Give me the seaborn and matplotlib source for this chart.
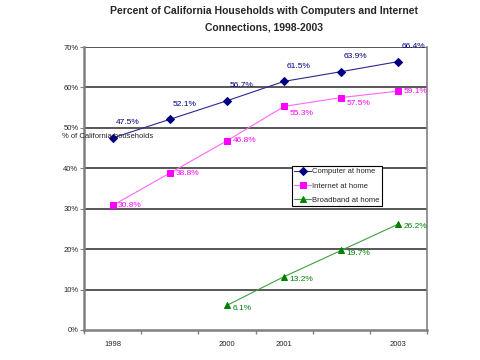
import matplotlib
matplotlib.use("Agg")
import matplotlib.pyplot as plt
import seaborn as sns
import numpy as np
import pandas as pd
from matplotlib.ticker import FuncFormatter, FixedLocator

sns.set_style("white")
plt.rcParams['font.family'] = ['Liberation Sans', 'DejaVu Sans']

years = ["1998", "", "2000", "2001", "", "2003"]
computer = [47.5, 52.1, 56.7, 61.5, 63.9, 66.4]
internet = [30.8, 38.8, 46.8, 55.3, 57.5, 59.1]
broadband = [np.nan, np.nan, 6.1, 13.2, 19.7, 26.2]

title = "Percent of California Households with Computers and Internet\nConnections, 1998-2003"
ylabel = "% of California households"

# label offsets (points) per series
off_computer = [(2, 11)] * 6
off_internet = [(4, 0), (4, 0), (4, 0), (4, -5), (4, -4), (4, 0)]
off_broadband = [(4, -2)] * 6

series = [
    ("Computer at home", computer, "#000080", "#2a2a90", "D", 4.5, off_computer),
    ("Internet at home", internet, "#ff00ff", "#ff66ff", "s", 5, off_internet),
    ("Broadband at home", broadband, "#008000", "#40a040", "^", 5, off_broadband),
]

fig = plt.figure(figsize=(4.8, 3.6), dpi=100)
ax = fig.add_axes([84/480, 1-330/360, 343/480, 283/360])

x = np.arange(len(years))
for name, vals, mcol, lcol, mk, ms, offs in series:
    df = pd.DataFrame({"x": x, "y": vals})
    sns.lineplot(data=df, x="x", y="y", ax=ax, color=lcol, lw=0.8,
                 marker=mk, markersize=ms, markerfacecolor=mcol,
                 markeredgecolor=mcol, label=name)
    for xi, v, off in zip(x, vals, offs):
        if np.isnan(v):
            continue
        ax.annotate(f"{v:.1f}%", (xi, v), xytext=off, textcoords="offset points",
                    ha="left", va="center", fontsize=6, color=mcol)

ax.set_xlim(-0.5, len(years) - 0.5)
ax.set_ylim(0, 70)
ax.set_xticks(x)
ax.set_xticklabels(years, fontsize=5.5)
ax.xaxis.set_minor_locator(FixedLocator(np.arange(-0.5, len(years), 1.0)))
ax.tick_params(axis="x", which="major", length=0, pad=8)
ax.tick_params(axis="x", which="minor", length=3, color="#808080", width=1, direction="out", bottom=True)
ax.set_yticks(np.arange(0, 71, 10))
ax.yaxis.set_major_formatter(FuncFormatter(lambda v, p: f"{v:.0f}%"))
ax.tick_params(axis="y", labelsize=5.5, length=3, color="#808080", direction="out", left=True, pad=1)
ax.set_xlabel("")
ax.set_ylabel("")

for yv in range(10, 71, 10):
    ax.axhline(yv, color="#2a2a2a", lw=1.1, zorder=0)

for s in ["left", "bottom", "right"]:
    ax.spines[s].set_visible(True)
    ax.spines[s].set_color("#808080")
ax.spines["left"].set_linewidth(1.8)
ax.spines["bottom"].set_linewidth(1.8)
ax.spines["right"].set_linewidth(1.2)
ax.spines["top"].set_visible(False)

leg = ax.legend(loc="upper left", bbox_to_anchor=(0.606, 0.58), fontsize=5.5,
                frameon=True, fancybox=False, edgecolor="black", framealpha=1,
                borderpad=0.3, labelspacing=0.9, handlelength=2.2, handletextpad=0.2,
                borderaxespad=0)
leg.get_frame().set_linewidth(0.8)

fig.text(0.55, 0.982, title, ha="center", va="top", fontsize=7.5, fontweight="bold",
         linespacing=1.7)
fig.text(62/480, 1-137/360, ylabel, ha="left", va="center", fontsize=5.5)

fig.savefig("out.png", dpi=100)
